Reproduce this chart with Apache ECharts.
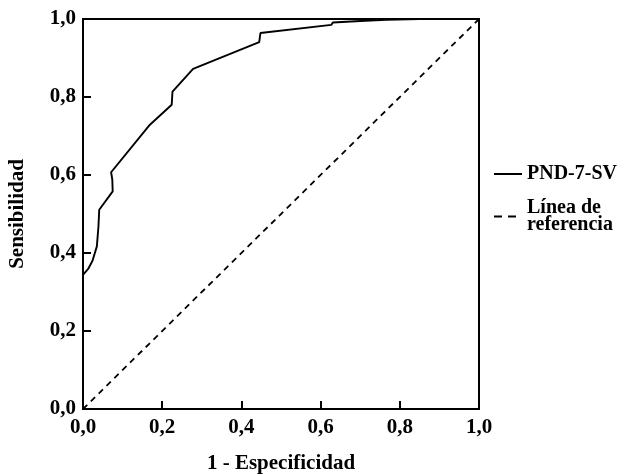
<!DOCTYPE html>
<html>
<head>
<meta charset="utf-8">
<script src="https://cdn.jsdelivr.net/npm/echarts@6/dist/echarts.min.js"></script>
<style>html,body{margin:0;padding:0;background:#fff}#c{width:627px;height:475px}</style>
</head>
<body>
<div id="c"></div>
<script>
// ROC curve (1 - Especificidad, Sensibilidad)
var rocX = [0, 0, 0.003, 0.013, 0.024, 0.035, 0.039, 0.041, 0.075, 0.074, 0.071, 0.169, 0.224, 0.226, 0.278, 0.445, 0.448, 0.627, 0.631, 0.700, 0.766, 0.850, 1.0];
var rocY = [0, 0.344, 0.344, 0.359, 0.380, 0.417, 0.468, 0.511, 0.558, 0.588, 0.607, 0.729, 0.780, 0.814, 0.872, 0.941, 0.964, 0.985, 0.991, 0.995, 0.998, 1.0, 1.0];
var refX = [0, 1];
var refY = [0, 1];
var tickValues = [0, 0.2, 0.4, 0.6, 0.8, 1.0];
var seriesNames = ['PND-7-SV', 'Línea de\nreferencia'];
var xTitle = '1 - Especificidad';
var yTitle = 'Sensibilidad';

function pairs(xs, ys) { return xs.map(function (x, i) { return [x, ys[i]]; }); }
function fmt(v) { return v.toFixed(1).replace('.', ','); }

var FONT = 'Liberation Serif';
var chart = echarts.init(document.getElementById('c'), null, { renderer: 'canvas' });
var axisCommon = {
  type: 'value', min: 0, max: 1, interval: 0.2,
  axisLine: { show: true, lineStyle: { color: '#000', width: 2 } },
  axisTick: { show: true, inside: true, length: 8, lineStyle: { color: '#000', width: 2 } },
  splitLine: { show: false },
  axisLabel: { color: '#000', fontFamily: FONT, fontWeight: 'bold', fontSize: 21, margin: 7, formatter: fmt },
  nameLocation: 'middle',
  nameTextStyle: { color: '#000', fontFamily: FONT, fontWeight: 'bold', fontSize: 21 }
};
chart.setOption({
  animation: false,
  backgroundColor: '#fff',
  grid: { left: 83, right: 148, top: 19, bottom: 66, outerBoundsMode: 'none', containLabel: false,
    show: true, borderColor: '#000', borderWidth: 2, backgroundColor: 'transparent' },
  xAxis: Object.assign({}, axisCommon, {
    name: xTitle, nameGap: 44,
    axisLabel: Object.assign({}, axisCommon.axisLabel, { margin: 8 })
  }),
  yAxis: Object.assign({}, axisCommon, { name: yTitle, nameGap: 55 }),
  legend: {
    orient: 'vertical', left: 493, top: 164, padding: 0, itemWidth: 28, itemHeight: 10, itemGap: 14,
    itemStyle: { opacity: 0 },
    textStyle: { color: '#000', fontFamily: FONT, fontWeight: 'bold', fontSize: 20, lineHeight: 17, padding: [0, 0, 0, 0] },
    data: [
      { name: seriesNames[0], lineStyle: { width: 2 } },
      { name: seriesNames[1], lineStyle: { width: 2, type: [8, 6] } }
    ]
  },
  series: [
    { name: seriesNames[0], type: 'line', data: pairs(rocX, rocY), symbol: 'none', smooth: false,
      lineStyle: { color: '#000', width: 1.9 }, itemStyle: { color: '#000' } },
    { name: seriesNames[1], type: 'line', data: pairs(refX, refY), symbol: 'none',
      lineStyle: { color: '#000', width: 1.8, type: [6, 5] }, itemStyle: { color: '#000' } }
  ]
});
</script>
</body>
</html>
